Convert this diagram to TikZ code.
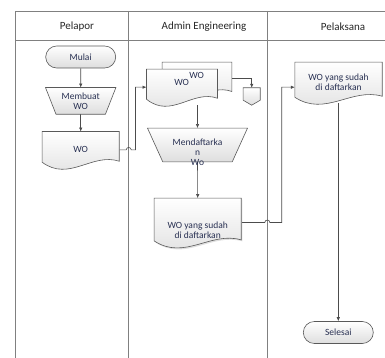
\documentclass[tikz,border=0pt]{standalone}
\usepackage{fontspec}
\setmainfont{Carlito}
\usetikzlibrary{arrows.meta}
\usetikzlibrary{shapes.misc}
\usetikzlibrary{calc}
\usetikzlibrary{backgrounds}
\usetikzlibrary{shadows}
\definecolor{shapetxt}{RGB}{40,48,82}
\newcommand{\shapefont}{\fontsize{9.5}{10}\selectfont}
\tikzset{
  lane/.style={draw=black!50, line width=0.8pt},
  shapeline/.style={draw=black!65, line width=0.6pt, top color=white, bottom color=black!13},
  terminator/.style={rounded rectangle, shapeline, minimum width=70pt, minimum height=22pt,
    inner sep=0pt, font=\shapefont, text=shapetxt},
  plainbox/.style={rectangle, draw=none, inner sep=0pt, align=center, font=\shapefont, text=shapetxt},
  headtxt/.style={font=\fontsize{11}{13}\selectfont, text=black!85},
  flow/.style={draw=black!70, line width=0.6pt, -{Latex[length=4pt,width=3.5pt]}}
}
% document with wavy bottom
\newcommand{\docshape}[2][]{%
  \draw[shapeline,#1] ([yshift=7pt]#2.south east) -- (#2.north east) -- (#2.north west)
    -- ([yshift=6pt]#2.south west)
    .. controls ([yshift=-14pt]$(#2.south west)!0.35!(#2.south east)$)
    and ([yshift=16pt]$(#2.south west)!0.65!(#2.south east)$) .. cycle;}
% manual operation
\newcommand{\manualop}[2]{%
  \draw[shapeline] (#1.north west) -- (#1.north east) -- ([xshift=-#2]#1.south east)
    -- ([xshift=#2]#1.south west) -- cycle;}
% off-page reference
\newcommand{\offpageshape}[1]{%
  \draw[shapeline] (#1.north west) -- (#1.north east) -- ([yshift=5pt]#1.south east)
    -- (#1.south) -- ([yshift=5pt]#1.south west) -- cycle;}

\begin{document}
\begin{tikzpicture}[x=1pt,y=-1pt]
\useasboundingbox (0,0) rectangle (385,358);
\coordinate (lane1) at (128.7,11);
\coordinate (lane2) at (267.3,11);
\coordinate (jog1) at (135.5,11);
\coordinate (jog2) at (281.7,11);

% headers
\node[headtxt] (hpelapor) at (77,26.7) {Pelapor};
\node[headtxt] (hadmin) at (204,26.7) {Admin Engineering};
\node[headtxt] (hpelaksana) at (343,26.7) {Pelaksana};

% Pelapor
\node[terminator] (mulai) at (80.7,57) {Mulai};
\node[plainbox, minimum width=70pt, minimum height=26.3pt] (membuat) at (80.7,100.9) {Membuat\\WO};
\node[plainbox, minimum width=76.7pt, minimum height=36.3pt] (wo) at (80.7,149.9) {WO};

% Admin Engineering
\node[plainbox, minimum width=69.4pt, minimum height=36pt] (back) at (197,80.3) {};
\node[plainbox, minimum width=70.6pt, minimum height=35.7pt] (front) at (182,87.2) {};
\node[plainbox] (backtxt) at (196.7,75.7) {WO};
\node[plainbox] (fronttxt) at (181.7,82.3) {WO};
\node[plainbox, minimum width=16.7pt, minimum height=17pt] (offpage) at (251.7,96.5) {};
\node[plainbox, minimum width=99.6pt, minimum height=33.4pt] (daftar) at (197.5,145) {};
\node[plainbox] (daftartxt) at (197.5,152) {Mendaftarka\\n\\Wo};
\node[plainbox, minimum width=86.7pt, minimum height=48.4pt] (terdaftar) at (197.7,222.5) {};
\node[plainbox] (terdaftartxt) at (197.7,230.7) {WO yang sudah\\di daftarkan};

% Pelaksana
\node[plainbox, minimum width=87pt, minimum height=40.7pt] (wopel) at (338.5,82.7) {WO yang sudah\\di daftarkan};
\node[terminator] (selesai) at (338.3,332.5) {Selesai};

\begin{scope}[on background layer]
% lanes
\draw[lane] (15.5,358) -- (15.5,11) -- (385,11);
\draw[lane] (15.5,40) -- (385,40);
\draw[lane] (lane1) -- (128.7,358);
\draw[lane] (lane2) -- (267.3,358);

% connectors
\draw[flow] (mulai) -- (membuat);
\draw[flow] (membuat) -- (wo);
\draw[flow] (wo.east) -- ([xshift=-2.5pt]wo.east -| lane1) arc[start angle=180, end angle=0, radius=2.5pt]
  -- (wo.east -| jog1) |- (front.west);
\draw[flow] ([yshift=2pt]back.east) -| (offpage.north);
\draw[flow] (daftar.north |- front.south) -- (daftar.north);
\draw[flow] (daftar.south) -- (terdaftar.north);
\draw[flow] (terdaftar.east) -- ([xshift=-2.5pt]terdaftar.east -| lane2) arc[start angle=180, end angle=0, radius=2.5pt]
  -- (terdaftar.east -| jog2) |- ([yshift=-4.5pt]wopel.west);
\draw[flow] (wopel.south -| selesai.north) -- (selesai.north);

% shapes
\manualop{membuat}{10.5pt}
\docshape{wo}
\docshape{back}
\docshape{front}
\offpageshape{offpage}
\manualop{daftar}{15.3pt}
\docshape[drop shadow={opacity=0.25, shadow xshift=1.2pt, shadow yshift=-1.5pt}]{terdaftar}
\docshape{wopel}
\end{scope}
\end{tikzpicture}
\end{document}
